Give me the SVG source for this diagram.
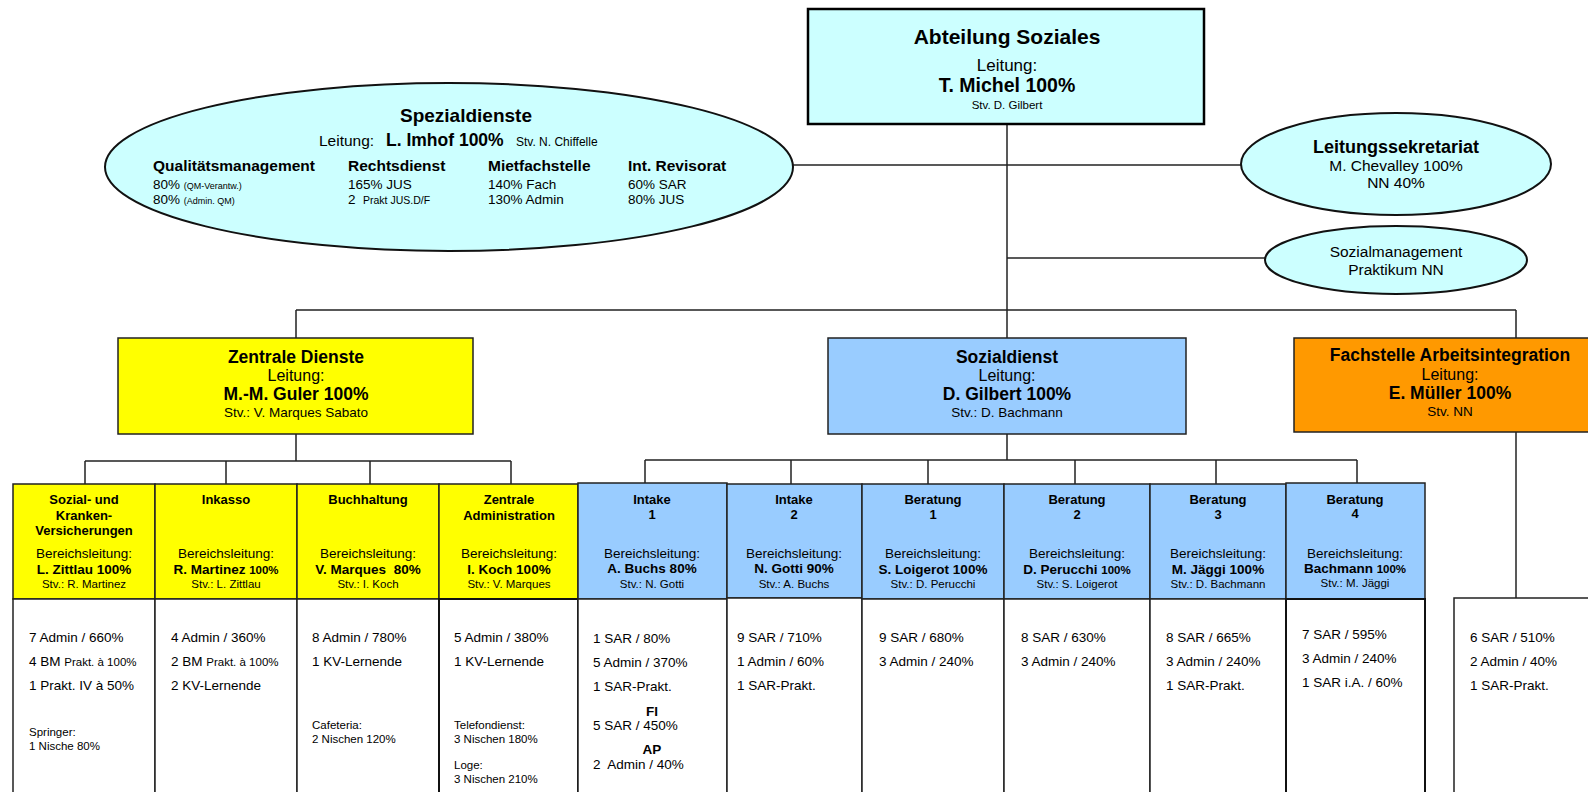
<svg xmlns="http://www.w3.org/2000/svg" width="1588" height="792" viewBox="0 0 1588 792">
<style>
text{font-family:"Liberation Sans",Arial,sans-serif;fill:#000}
.c{text-anchor:middle}
.b{font-weight:bold}
.ln{stroke:#222;stroke-width:1.5;fill:none}
.bx{stroke:#222;stroke-width:1.5}
.cy{fill:#CCFFFF}
.ye{fill:#FFFF00}
.bl{fill:#99CCFF}
.or{fill:#FF9900}
.wh{fill:#FFFFFF}
.t13{font-size:13px}
.t135{font-size:13.5px}
.t115{font-size:11.5px}
.t12{font-size:12px}
.t175{font-size:17.5px}
.t16{font-size:16px}
.t155{font-size:15.5px}
</style>
<rect width="1588" height="792" fill="#fff"/>
<g id="connectors">
<path class="ln" d="M793 165H1241"/>
<path class="ln" d="M1007 124V338"/>
<path class="ln" d="M1007 258H1265"/>
<path class="ln" d="M296 310H1516M296 310V338M1516 310V338"/>
<path class="ln" d="M296 434V461M85 461H511M85 461V484M226 461V484M370 461V484M511 461V484"/>
<path class="ln" d="M1007 434V460M645 460H1357M645 460V484M791 460V484M928 460V484M1075 460V484M1216 460V484M1357 460V484"/>
<path class="ln" d="M1516 432V599"/>
</g>
<g id="abteilung">
<rect x="808" y="9" width="396" height="115" class="cy" stroke="#000" stroke-width="2.5"/>
<text x="1007" y="44" class="c b" font-size="21">Abteilung Soziales</text>
<text x="1007" y="71" class="c" font-size="17">Leitung:</text>
<text x="1007" y="92" class="c b" font-size="19.5">T. Michel 100%</text>
<text x="1007" y="109" class="c" font-size="11.5">Stv. D. Gilbert</text>
</g>
<g id="spezialdienste">
<ellipse cx="449" cy="167" rx="344" ry="84" class="cy" stroke="#111" stroke-width="2"/>
<text x="466" y="122" class="c b" font-size="19">Spezialdienste</text>
<text x="319" y="146" font-size="15.5">Leitung:</text>
<text x="386" y="146" class="b" font-size="17.5">L. Imhof 100%</text>
<text x="516" y="146" font-size="12">Stv. N. Chiffelle</text>
<text x="153" y="171" class="b" font-size="15.5">Qualitätsmanagement</text>
<text x="153" y="189" class="t135">80% <tspan font-size="9">(QM-Verantw.)</tspan></text>
<text x="153" y="204" class="t135">80% <tspan font-size="9">(Admin. QM)</tspan></text>
<text x="348" y="171" class="b" font-size="15.5">Rechtsdienst</text>
<text x="348" y="189" class="t135">165% JUS</text>
<text x="348" y="204" class="t135" xml:space="preserve">2  <tspan font-size="10.5">Prakt JUS.D/F</tspan></text>
<text x="488" y="171" class="b" font-size="15.5">Mietfachstelle</text>
<text x="488" y="189" class="t135">140% Fach</text>
<text x="488" y="204" class="t135">130% Admin</text>
<text x="628" y="171" class="b" font-size="15.5">Int. Revisorat</text>
<text x="628" y="189" class="t135">60% SAR</text>
<text x="628" y="204" class="t135">80% JUS</text>
</g>
<g id="leitungssekretariat">
<ellipse cx="1396" cy="164" rx="155" ry="51" class="cy" stroke="#111" stroke-width="2"/>
<text x="1396" y="153" class="c b" font-size="18">Leitungssekretariat</text>
<text x="1396" y="171" class="c t155">M. Chevalley 100%</text>
<text x="1396" y="188" class="c t155">NN 40%</text>
</g>
<g id="sozialmanagement">
<ellipse cx="1396" cy="260" rx="131" ry="34" class="cy" stroke="#111" stroke-width="2"/>
<text x="1396" y="257" class="c t155">Sozialmanagement</text>
<text x="1396" y="275" class="c t155">Praktikum NN</text>
</g>
<g id="zentrale-dienste">
<rect x="118" y="338" width="355" height="96" class="ye bx"/>
<text x="296" y="363" class="c b t175">Zentrale Dienste</text>
<text x="296" y="381" class="c t16">Leitung:</text>
<text x="296" y="400" class="c b t175">M.-M. Guler 100%</text>
<text x="296" y="417" class="c t135">Stv.: V. Marques Sabato</text>
</g>
<g id="sozialdienst">
<rect x="828" y="338" width="358" height="96" class="bl bx"/>
<text x="1007" y="363" class="c b t175">Sozialdienst</text>
<text x="1007" y="381" class="c t16">Leitung:</text>
<text x="1007" y="400" class="c b t175">D. Gilbert 100%</text>
<text x="1007" y="417" class="c t135">Stv.: D. Bachmann</text>
</g>
<g id="fachstelle">
<rect x="1294" y="338" width="300" height="94" class="or bx"/>
<text x="1450" y="361" class="c b t175">Fachstelle Arbeitsintegration</text>
<text x="1450" y="380" class="c t16">Leitung:</text>
<text x="1450" y="399" class="c b t175">E. Müller 100%</text>
<text x="1450" y="416" class="c t135">Stv. NN</text>
</g>
<g id="sozial-kranken">
<rect x="13" y="484" width="142" height="115" class="ye bx"/>
<rect x="13" y="599" width="142" height="200" class="wh bx"/>
<text x="84" y="504" class="c b t13">Sozial- und</text>
<text x="84" y="520" class="c b t13">Kranken-</text>
<text x="84" y="535" class="c b t13">Versicherungen</text>
<text x="84" y="558" class="c t135">Bereichsleitung:</text>
<text x="84" y="574" class="c b t135">L. Zittlau 100%</text>
<text x="84" y="588" class="c t115">Stv.: R. Martinez</text>
<text x="29" y="642" class="t135">7 Admin / 660%</text>
<text x="29" y="666" class="t135">4 BM <tspan class="t115">Prakt. à 100%</tspan></text>
<text x="29" y="690" class="t135">1 Prakt. IV à 50%</text>
<text x="29" y="736" class="t115">Springer:</text>
<text x="29" y="750" class="t115">1 Nische 80%</text>
</g>
<g id="inkasso">
<rect x="155" y="484" width="142" height="115" class="ye bx"/>
<rect x="155" y="599" width="142" height="200" class="wh bx"/>
<text x="226" y="504" class="c b t13">Inkasso</text>
<text x="226" y="558" class="c t135">Bereichsleitung:</text>
<text x="226" y="574" class="c b t135">R. Martinez <tspan class="t115">100%</tspan></text>
<text x="226" y="588" class="c t115">Stv.: L. Zittlau</text>
<text x="171" y="642" class="t135">4 Admin / 360%</text>
<text x="171" y="666" class="t135">2 BM <tspan class="t115">Prakt. à 100%</tspan></text>
<text x="171" y="690" class="t135">2 KV-Lernende</text>
</g>
<g id="buchhaltung">
<rect x="297" y="484" width="142" height="115" class="ye bx"/>
<rect x="297" y="599" width="142" height="200" class="wh bx"/>
<text x="368" y="504" class="c b t13">Buchhaltung</text>
<text x="368" y="558" class="c t135">Bereichsleitung:</text>
<text x="368" y="574" class="c b t135" xml:space="preserve">V. Marques  80%</text>
<text x="368" y="588" class="c t115">Stv.: I. Koch</text>
<text x="312" y="642" class="t135">8 Admin / 780%</text>
<text x="312" y="666" class="t135">1 KV-Lernende</text>
<text x="312" y="729" class="t115">Cafeteria:</text>
<text x="312" y="743" class="t115">2 Nischen 120%</text>
</g>
<g id="zentrale-administration">
<rect x="439" y="484" width="139" height="115" class="ye bx"/>
<rect x="439" y="599" width="139" height="200" class="wh" stroke="#111" stroke-width="2"/>
<text x="509" y="504" class="c b t13">Zentrale</text>
<text x="509" y="520" class="c b t13">Administration</text>
<text x="509" y="558" class="c t135">Bereichsleitung:</text>
<text x="509" y="574" class="c b t135">I. Koch 100%</text>
<text x="509" y="588" class="c t115">Stv.: V. Marques</text>
<text x="454" y="642" class="t135">5 Admin / 380%</text>
<text x="454" y="666" class="t135">1 KV-Lernende</text>
<text x="454" y="729" class="t115">Telefondienst:</text>
<text x="454" y="743" class="t115">3 Nischen 180%</text>
<text x="454" y="769" class="t115">Loge:</text>
<text x="454" y="783" class="t115">3 Nischen 210%</text>
</g>
<g id="intake-1">
<rect x="578" y="483" width="149" height="116" class="bl bx"/>
<rect x="578" y="599" width="149" height="200" class="wh bx"/>
<text x="652" y="504" class="c b t13">Intake</text>
<text x="652" y="519" class="c b t13">1</text>
<text x="652" y="558" class="c t135">Bereichsleitung:</text>
<text x="652" y="573" class="c b t135">A. Buchs 80%</text>
<text x="652" y="588" class="c t115">Stv.: N. Gotti</text>
<text x="593" y="643" class="t135">1 SAR / 80%</text>
<text x="593" y="667" class="t135">5 Admin / 370%</text>
<text x="593" y="691" class="t135">1 SAR-Prakt.</text>
<text x="652" y="716" class="c b t135">FI</text>
<text x="593" y="730" class="t135">5 SAR / 450%</text>
<text x="652" y="754" class="c b t135">AP</text>
<text x="593" y="769" class="t135" xml:space="preserve">2  Admin / 40%</text>
</g>
<g id="intake-2">
<rect x="727" y="484" width="135" height="114" class="bl bx"/>
<rect x="727" y="598" width="135" height="200" class="wh bx"/>
<text x="794" y="504" class="c b t13">Intake</text>
<text x="794" y="519" class="c b t13">2</text>
<text x="794" y="558" class="c t135">Bereichsleitung:</text>
<text x="794" y="573" class="c b t135">N. Gotti 90%</text>
<text x="794" y="588" class="c t115">Stv.: A. Buchs</text>
<text x="737" y="642" class="t135">9 SAR / 710%</text>
<text x="737" y="666" class="t135">1 Admin / 60%</text>
<text x="737" y="690" class="t135">1 SAR-Prakt.</text>
</g>
<g id="beratung-1">
<rect x="862" y="484" width="142" height="115" class="bl bx"/>
<rect x="862" y="599" width="142" height="200" class="wh bx"/>
<text x="933" y="504" class="c b t13">Beratung</text>
<text x="933" y="519" class="c b t13">1</text>
<text x="933" y="558" class="c t135">Bereichsleitung:</text>
<text x="933" y="574" class="c b t135">S. Loigerot 100%</text>
<text x="933" y="588" class="c t115">Stv.: D. Perucchi</text>
<text x="879" y="642" class="t135">9 SAR / 680%</text>
<text x="879" y="666" class="t135">3 Admin / 240%</text>
</g>
<g id="beratung-2">
<rect x="1004" y="484" width="146" height="115" class="bl bx"/>
<rect x="1004" y="599" width="146" height="200" class="wh bx"/>
<text x="1077" y="504" class="c b t13">Beratung</text>
<text x="1077" y="519" class="c b t13">2</text>
<text x="1077" y="558" class="c t135">Bereichsleitung:</text>
<text x="1077" y="574" class="c b t135">D. Perucchi <tspan class="t115">100%</tspan></text>
<text x="1077" y="588" class="c t115">Stv.: S. Loigerot</text>
<text x="1021" y="642" class="t135">8 SAR / 630%</text>
<text x="1021" y="666" class="t135">3 Admin / 240%</text>
</g>
<g id="beratung-3">
<rect x="1150" y="484" width="136" height="115" class="bl bx"/>
<rect x="1150" y="599" width="136" height="200" class="wh bx"/>
<text x="1218" y="504" class="c b t13">Beratung</text>
<text x="1218" y="519" class="c b t13">3</text>
<text x="1218" y="558" class="c t135">Bereichsleitung:</text>
<text x="1218" y="574" class="c b t135">M. Jäggi 100%</text>
<text x="1218" y="588" class="c t115">Stv.: D. Bachmann</text>
<text x="1166" y="642" class="t135">8 SAR / 665%</text>
<text x="1166" y="666" class="t135">3 Admin / 240%</text>
<text x="1166" y="690" class="t135">1 SAR-Prakt.</text>
</g>
<g id="beratung-4">
<rect x="1286" y="483" width="139" height="116" class="bl bx"/>
<rect x="1286" y="599" width="139" height="200" class="wh" stroke="#111" stroke-width="2"/>
<text x="1355" y="504" class="c b t13">Beratung</text>
<text x="1355" y="518" class="c b t13">4</text>
<text x="1355" y="558" class="c t135">Bereichsleitung:</text>
<text x="1355" y="573" class="c b t135">Bachmann <tspan class="t115">100%</tspan></text>
<text x="1355" y="587" class="c t115">Stv.: M. Jäggi</text>
<text x="1302" y="639" class="t135">7 SAR / 595%</text>
<text x="1302" y="663" class="t135">3 Admin / 240%</text>
<text x="1302" y="687" class="t135">1 SAR i.A. / 60%</text>
</g>
<g id="fachstelle-team">
<rect x="1454" y="598" width="150" height="200" class="wh bx"/>
<text x="1470" y="642" class="t135">6 SAR / 510%</text>
<text x="1470" y="666" class="t135">2 Admin / 40%</text>
<text x="1470" y="690" class="t135">1 SAR-Prakt.</text>
</g>
</svg>
